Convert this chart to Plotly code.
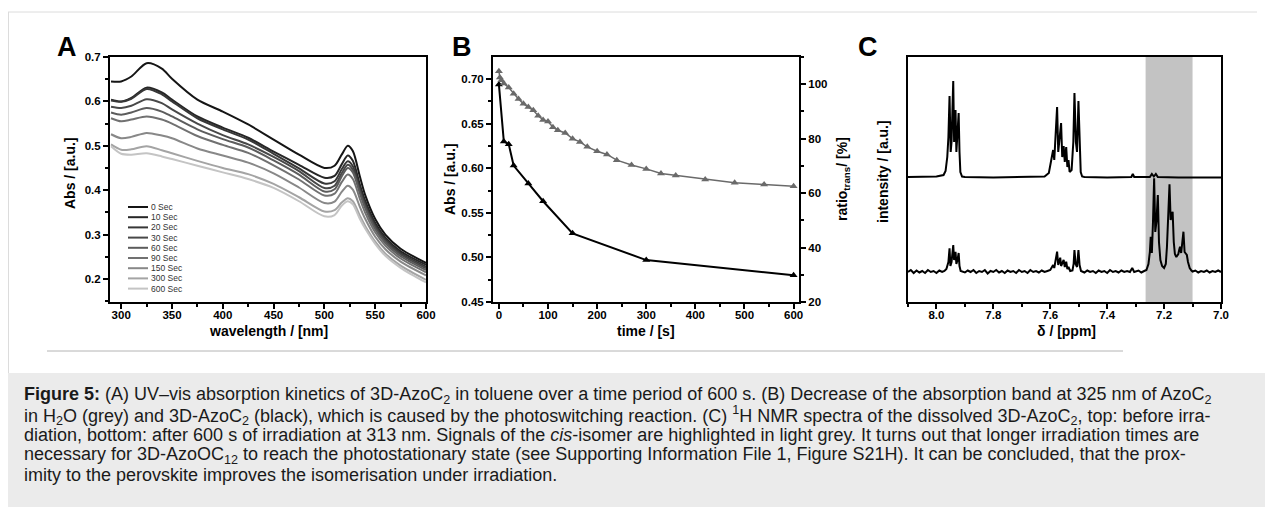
import plotly.graph_objects as go

# ---------------- Panel A data: UV-vis spectra ----------------
wavelength = [290, 300, 310, 325, 340, 350, 375, 400, 425, 450, 475, 500,
              510, 517, 523, 528, 535, 540, 550, 560, 575, 600]
series_names = ["0 Sec", "10 Sec", "20 Sec", "30 Sec", "60 Sec", "90 Sec",
                "150 Sec", "300 Sec", "600 Sec"]
abs_0 = [.645, .645, .656, .686, .674, .651, .604, .577, .548, .514, .480, .450, .455, .480, .500, .488, .430, .390, .335, .300, .268, .236]
abs_10 = [.604, .600, .608, .631, .620, .604, .566, .541, .518, .487, .457, .428, .432, .458, .478, .466, .412, .377, .326, .293, .262, .232]
abs_20 = [.602, .599, .606, .628, .616, .600, .562, .537, .514, .482, .449, .415, .420, .447, .465, .454, .404, .370, .321, .289, .258, .228]
abs_30 = [.588, .585, .590, .605, .596, .582, .550, .524, .503, .475, .443, .405, .410, .438, .457, .446, .398, .365, .317, .285, .255, .224]
abs_60 = [.575, .570, .575, .585, .577, .566, .537, .515, .496, .467, .435, .397, .402, .431, .450, .440, .392, .360, .312, .281, .251, .220]
abs_90 = [.562, .555, .559, .566, .559, .550, .522, .502, .484, .456, .424, .388, .392, .418, .435, .425, .380, .350, .305, .275, .246, .215]
abs_150 = [.526, .517, .520, .529, .523, .517, .494, .478, .462, .438, .406, .371, .374, .396, .410, .401, .362, .336, .295, .267, .239, .208]
abs_300 = [.503, .491, .492, .499, .490, .483, .466, .450, .436, .414, .384, .352, .355, .372, .382, .375, .342, .320, .284, .257, .230, .198]
abs_600 = [.499, .482, .480, .483, .476, .470, .455, .440, .425, .405, .375, .341, .344, .365, .375, .368, .335, .314, .279, .252, .225, .192]
series_values = [abs_0, abs_10, abs_20, abs_30, abs_60, abs_90, abs_150, abs_300, abs_600]
series_colors = ["#151515", "#262626", "#373737", "#484848", "#5c5c5c",
                 "#717171", "#888888", "#a4a4a4", "#c4c4c4"]

# ---------------- Panel B data: kinetics ----------------
time_black = [0, 10, 20, 30, 60, 90, 150, 300, 600]
abs_black = [0.694, 0.630, 0.627, 0.603, 0.583, 0.563, 0.527, 0.497, 0.480]
time_grey = [0, 2, 5, 10, 20, 30, 40, 50, 60, 70, 80, 90, 100, 110, 120, 135,
             150, 165, 180, 200, 220, 240, 270, 300, 330, 360, 420, 480, 540, 600]
ratio_grey = [104.8, 102.5, 101.5, 100.3, 98.8, 96.5, 94.6, 92.8, 91.6, 90.4,
              88.4, 86.9, 86.3, 84.2, 83.1, 82.1, 80.0, 78.8, 77.0, 75.4, 74.2,
              72.1, 70.3, 68.9, 67.2, 66.5, 65.0, 63.8, 63.2, 62.5]

# ---------------- Panel C data: 1H NMR spectra ----------------
nmr_top_ppm = [8.10, 8.00, 7.975, 7.968, 7.962, 7.958, 7.954, 7.950, 7.947, 7.944, 7.941, 7.938,
               7.935, 7.933, 7.930, 7.926, 7.922, 7.919, 7.916, 7.910, 7.90, 7.80, 7.70, 7.62,
               7.605, 7.598, 7.594, 7.590, 7.586, 7.582, 7.579, 7.576, 7.572, 7.568, 7.565, 7.562,
               7.558, 7.555, 7.553, 7.549, 7.546, 7.544, 7.540, 7.536, 7.532, 7.525, 7.519, 7.515,
               7.510, 7.506, 7.501, 7.497, 7.493, 7.488, 7.48, 7.40, 7.315, 7.31, 7.305, 7.25,
               7.243, 7.236, 7.229, 7.222, 7.15, 7.00]
nmr_top_int = [125, 125.5, 127, 131, 145, 165, 206, 150, 160, 200, 221, 160,
               185, 192, 150, 165, 189, 150, 130, 125.5, 125, 124.5, 125, 125.5,
               129, 140, 148, 152, 142, 165, 185, 195, 150, 165, 175, 179,
               145, 152, 156, 140, 152, 155, 135, 142, 130, 132, 160, 209,
               160, 150, 201, 150, 130, 125.5, 125, 124.5, 125, 128, 125, 125,
               128, 125.5, 128, 125, 124.5, 124.5]
nmr_bot_ppm = [8.10, 8.09, 8.08, 8.07, 8.06, 8.05, 8.04, 8.03, 8.02, 8.01, 8.00, 7.99, 7.98,
               7.972, 7.965, 7.958, 7.954, 7.951, 7.947, 7.944, 7.941, 7.938, 7.935, 7.933,
               7.930, 7.926, 7.922, 7.919, 7.915, 7.90, 7.89, 7.88, 7.87, 7.86, 7.85, 7.84,
               7.83, 7.82, 7.81, 7.80, 7.79, 7.78, 7.77, 7.76, 7.75, 7.74, 7.73, 7.72, 7.71,
               7.70, 7.69, 7.68, 7.67, 7.66, 7.65, 7.64, 7.63, 7.62, 7.61, 7.60, 7.594, 7.590,
               7.586, 7.582, 7.579, 7.576, 7.572, 7.568, 7.565, 7.562, 7.558, 7.553, 7.549,
               7.546, 7.544, 7.540, 7.536, 7.530, 7.522, 7.518, 7.515, 7.511, 7.506, 7.501,
               7.497, 7.492, 7.48, 7.47, 7.46, 7.45, 7.44, 7.43, 7.42, 7.41, 7.40, 7.39, 7.38,
               7.37, 7.36, 7.35, 7.34, 7.33, 7.32, 7.312, 7.305, 7.29, 7.28, 7.27, 7.262,
               7.255, 7.250, 7.247, 7.243, 7.239, 7.235, 7.231, 7.227, 7.222, 7.218, 7.213,
               7.207, 7.200, 7.194, 7.190, 7.185, 7.181, 7.177, 7.174, 7.170, 7.166, 7.162,
               7.157, 7.150, 7.147, 7.144, 7.140, 7.136, 7.132, 7.128, 7.124, 7.120, 7.116,
               7.110, 7.104, 7.10, 7.09, 7.08, 7.07, 7.06, 7.05, 7.04, 7.03, 7.02, 7.01, 7.00]
nmr_bot_int = [30, 32, 29, 31.5, 29.5, 31, 29, 32, 30, 31, 29, 31.5, 30,
               31, 33, 40, 53.7, 36, 40, 50, 57, 42, 48, 50.3,
               38, 42, 49, 36, 31, 29.5, 31.5, 30, 32, 29, 31, 30,
               32, 28.5, 31, 30, 32, 29.5, 31, 29, 31.5, 30, 31, 29, 32,
               30, 31, 29, 32, 30, 31, 29.5, 31.5, 30, 31, 32, 35, 37,
               34, 40, 46, 50.3, 37, 40, 44.3, 36, 39, 42, 35,
               38, 40.3, 33, 35, 31, 31.5, 38, 52, 38, 35, 52,
               37, 31, 29.5, 31.5, 30, 31, 29, 31.5, 30, 31, 29, 32, 30,
               31, 29.5, 31.5, 30, 31, 30, 34, 30, 31.5, 29.5, 31, 32,
               38, 50, 65.3, 49, 80, 123.7, 70, 80, 107, 60, 42,
               36, 34, 38, 55, 95, 117.7, 82, 85, 90.3, 60, 48,
               45, 48, 52, 55.3, 49, 58, 70.3, 50, 48, 47, 40,
               34, 31.5, 30.5, 31.5, 29.5, 31, 30, 31.5, 29.5, 31, 30, 31.5, 30]
cis_region = [7.265, 7.10]

caption_lines = [
    "<b>Figure 5:</b> (A) UV–vis absorption kinetics of 3D-AzoC<sub>2</sub> in toluene over a time period of 600 s. (B) Decrease of the absorption band at 325 nm of AzoC<sub>2</sub>",
    "in H<sub>2</sub>O (grey) and 3D-AzoC<sub>2</sub> (black), which is caused by the photoswitching reaction. (C) <sup>1</sup>H NMR spectra of the dissolved 3D-AzoC<sub>2</sub>, top: before irra-",
    "diation, bottom: after 600 s of irradiation at 313 nm. Signals of the <i>cis</i>-isomer are highlighted in light grey. It turns out that longer irradiation times are",
    "necessary for 3D-AzoOC<sub>12</sub> to reach the photostationary state (see Supporting Information File 1, Figure S21H). It can be concluded, that the prox-",
    "imity to the perovskite improves the isomerisation under irradiation.",
]

# ---------------- layout helpers ----------------
# the page body keeps its default 8 px margin, so the figure is 16 px smaller
OFF = 8
W, H = 1265 - 2 * OFF, 507 - 2 * OFF
FONT = "Liberation Sans, Arial, sans-serif"


def px(x):
    return (x - OFF) / W


def py(y):
    return 1 - (y - OFF) / H


ydom = [py(302), py(57)]

fig = go.Figure()

for name, vals, col in zip(series_names, series_values, series_colors):
    fig.add_trace(go.Scatter(x=wavelength, y=vals, mode="lines", name=name,
                             line=dict(color=col, width=2, shape="spline", smoothing=0.8),
                             xaxis="x", yaxis="y", showlegend=False))

fig.add_trace(go.Scatter(x=time_grey, y=ratio_grey, mode="lines+markers", name="AzoC2 in H2O",
                         line=dict(color="#6a6a6a", width=1.5),
                         marker=dict(symbol="triangle-up", size=7, color="#6a6a6a"),
                         xaxis="x2", yaxis="y4", showlegend=False))
fig.add_trace(go.Scatter(x=time_black, y=abs_black, mode="lines+markers", name="3D-AzoC2",
                         line=dict(color="black", width=2),
                         marker=dict(symbol="triangle-up", size=7, color="black"),
                         xaxis="x2", yaxis="y2", showlegend=False))

fig.add_trace(go.Scatter(x=nmr_top_ppm, y=nmr_top_int, mode="lines", name="before",
                         line=dict(color="black", width=2), xaxis="x3", yaxis="y3",
                         showlegend=False))
fig.add_trace(go.Scatter(x=nmr_bot_ppm, y=nmr_bot_int, mode="lines", name="after",
                         line=dict(color="black", width=2), xaxis="x3", yaxis="y3",
                         showlegend=False))

tickfont = dict(family=FONT, size=11.5, color="black", weight="bold")
common = dict(showline=True, linecolor="black", linewidth=2, ticks="outside",
              ticklen=5, tickwidth=1.5, tickcolor="black", tickfont=tickfont,
              showgrid=False, zeroline=False, automargin=False)
xcommon = dict(common, ticklabelstandoff=-4)

fig.update_layout(
    template="none",
    width=W, height=H, margin=dict(l=0, r=0, t=0, b=0, pad=0, autoexpand=False),
    paper_bgcolor="white", plot_bgcolor="white", showlegend=False,
    font=dict(family=FONT, color="black"),
    xaxis=dict(domain=[px(110), px(426)], range=[289, 600], anchor="y", mirror=True,
               tickvals=[300, 350, 400, 450, 500, 550, 600],
               minor=dict(ticks="outside", ticklen=3, tickwidth=1.5, dtick=25, tick0=275, tickcolor="black"),
               **xcommon),
    yaxis=dict(domain=ydom, range=[0.148, 0.7], anchor="x", mirror=True,
               tickvals=[0.2, 0.3, 0.4, 0.5, 0.6, 0.7], tickformat=".1f",
               minor=dict(ticks="outside", ticklen=3, tickwidth=1.5, dtick=0.05, tick0=0.15, tickcolor="black"),
               **common),
    xaxis2=dict(domain=[px(493), px(799)], range=[-12, 611], anchor="y2", mirror=True,
                tickvals=[0, 100, 200, 300, 400, 500, 600],
                minor=dict(ticks="outside", ticklen=3, tickwidth=1.5, dtick=50, tick0=0, tickcolor="black"),
                **xcommon),
    yaxis2=dict(domain=ydom, range=[0.45, 0.7247], anchor="x2",
                tickvals=[0.45, 0.5, 0.55, 0.6, 0.65, 0.7], tickformat=".2f",
                minor=dict(ticks="outside", ticklen=3, tickwidth=1.5, dtick=0.025, tick0=0.45, tickcolor="black"),
                **common),
    yaxis4=dict(domain=ydom, range=[20, 110], anchor="x2", overlaying="y2", side="right",
                tickvals=[20, 40, 60, 80, 100],
                minor=dict(ticks="outside", ticklen=3, tickwidth=1.5, dtick=10, tick0=20, tickcolor="black"),
                **common),
    xaxis3=dict(domain=[px(908), px(1221)], range=[8.1, 7.0], anchor="y3", mirror=True,
                tickvals=[8.0, 7.8, 7.6, 7.4, 7.2, 7.0], tickformat=".1f",
                minor=dict(ticks="outside", ticklen=3, tickwidth=1.5, dtick=0.1, tick0=7.0, tickcolor="black"),
                **xcommon),
    yaxis3=dict(domain=ydom, range=[0, 245], anchor="x3", mirror=True, showline=True,
                linecolor="black", linewidth=2, showticklabels=False, ticks="",
                showgrid=False, zeroline=False, automargin=False),
)

shapes = []
# cis-isomer highlight
shapes.append(dict(type="rect", xref="x3", yref="y3 domain", x0=cis_region[0], x1=cis_region[1],
                   y0=0, y1=1, fillcolor="#c3c3c3", line=dict(width=0), layer="below"))
# page chrome
shapes.append(dict(type="line", xref="paper", yref="paper", x0=px(8), x1=px(1270), y0=py(12), y1=py(12),
                   line=dict(color="#dcdcdc", width=1)))
shapes.append(dict(type="line", xref="paper", yref="paper", x0=px(8.5), x1=px(8.5), y0=py(12), y1=py(373),
                   line=dict(color="#dcdcdc", width=1)))
shapes.append(dict(type="rect", xref="paper", yref="paper", x0=px(8), x1=px(1270), y0=py(512), y1=py(373),
                   fillcolor="#ebebeb", line=dict(width=0), layer="below"))
shapes.append(dict(type="line", xref="paper", yref="paper", x0=px(47), x1=px(1123), y0=py(351), y1=py(351),
                   line=dict(color="#b4b4b4", width=1)))

annotations = []
# manual compact legend for panel A
for i, (name, col) in enumerate(zip(series_names, series_colors)):
    yy = 207 + i * 10.2
    shapes.append(dict(type="line", xref="paper", yref="paper", x0=px(128), x1=px(148),
                       y0=py(yy), y1=py(yy), line=dict(color=col, width=2)))
    annotations.append(dict(x=px(149), y=py(yy), xref="paper", yref="paper", text=name,
                            showarrow=False, xanchor="left", yanchor="middle",
                            font=dict(family=FONT, size=8.5, color="#333")))

title_font = dict(family=FONT, size=14, color="black", weight="bold")
for text, x, y, ang in [("wavelength / [nm]", 268, 331, 0), ("time / [s]", 646, 331, 0),
                        ("δ / [ppm]", 1066, 331, 0), ("Abs / [a.u.]", 70, 173, -90),
                        ("Abs / [a.u.]", 450, 179, -90), ("ratio<sub>trans</sub>/ [%]", 843, 179, -90),
                        ("intensity / [a.u.]", 883, 172, -90)]:
    annotations.append(dict(x=px(x), y=py(y), xref="paper", yref="paper", text=text,
                            showarrow=False, xanchor="center", yanchor="middle",
                            textangle=ang, font=title_font))

for text, x in [("A", 67), ("B", 462), ("C", 868)]:
    annotations.append(dict(x=px(x), y=py(47), xref="paper", yref="paper", text=text,
                            showarrow=False, xanchor="center", yanchor="middle",
                            font=dict(family=FONT, size=27, color="black", weight="bold")))

for i, line in enumerate(caption_lines):
    annotations.append(dict(x=px(22), y=py(395 + 20 * i), xref="paper", yref="paper", text=line,
                            showarrow=False, xanchor="left", yanchor="middle", align="left",
                            font=dict(family=FONT, size=18, color="#1a1a1a")))

fig.update_layout(shapes=shapes, annotations=annotations)
# the page margin around the figure continues the caption box (grey below 373 px, right of 8 px)
page_bg = ("document.body.style.background="
           "'linear-gradient(to right, #ffffff 8px, rgba(255,255,255,0) 8px), "
           "linear-gradient(to bottom, #ffffff 373px, #ebebeb 373px)';")
fig.write_html("out.html", config={"displayModeBar": False}, post_script=page_bg)
